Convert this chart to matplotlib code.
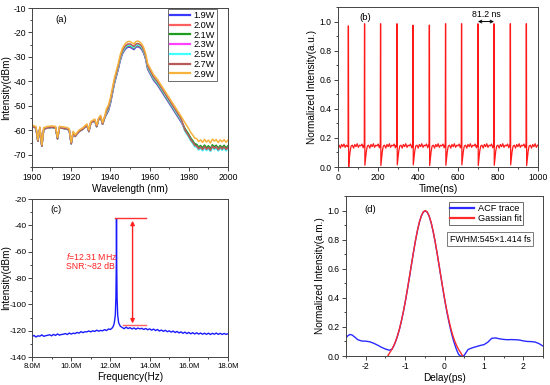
import numpy as np
import matplotlib
matplotlib.use("Agg")
import matplotlib.pyplot as plt
from matplotlib.ticker import MultipleLocator, FuncFormatter

plt.rcParams["font.family"] = ["Liberation Sans", "DejaVu Sans"]
plt.rcParams["axes.unicode_minus"] = False
plt.rcParams["mathtext.fontset"] = "custom"
plt.rcParams["mathtext.it"] = "Liberation Sans:italic"
plt.rcParams["mathtext.rm"] = "Liberation Sans"

# (a) optical spectra at different pump powers
powers = ["1.9W", "2.0W", "2.1W", "2.3W", "2.5W", "2.7W", "2.9W"]
power_colors = ["#3a3aff", "#ff5f5f", "#1e9e1e", "#ff40ff", "#40ffff", "#b85a5a", "#f6b33c"]
wavelength = [1900, 1902, 1903, 1904, 1905, 1906, 1908, 1910, 1912, 1913, 1914, 1916,
              1918, 1919, 1920, 1921, 1922, 1924, 1926, 1928, 1929, 1930, 1932, 1933,
              1934, 1935, 1936, 1937, 1938, 1939, 1940, 1941, 1942, 1944, 1945, 1946,
              1947, 1948, 1949, 1950, 1951, 1952, 1953, 1954, 1955, 1956, 1957, 1958,
              1959, 1960, 1962, 1964, 1966, 1968, 1970, 1972, 1974, 1976, 1978, 1980,
              1981, 1982, 1983, 1984, 1985, 1986, 1987, 1988, 1989, 1990, 1991, 1992,
              1993, 1994, 1995, 1996, 1997, 1998, 1999, 2000]
spectrum_19w = [-58.5, -59.0, -64.5, -59.2, -66.5, -59.5, -59.0, -58.8, -59.0, -63.5, -59.0, -59.2,
                -59.5, -60.0, -65.5, -61.0, -62.5, -60.5, -59.5, -58.0, -60.5, -57.0, -56.0, -58.5,
                -55.5, -54.5, -57.5, -55.0, -53.5, -52.0, -49.0, -45.0, -41.0, -35.0, -31.5, -29.0,
                -27.5, -26.5, -26.0, -26.0, -26.5, -27.0, -26.0, -25.8, -26.2, -27.0, -28.5, -31.0,
                -35.0, -36.5, -39.5, -41.5, -44.0, -46.5, -49.0, -51.5, -54.0, -56.5, -59.5, -62.0,
                -63.5, -64.5, -65.8, -66.0, -67.2, -66.5, -67.5, -66.3, -67.4, -66.6, -67.8, -66.2,
                -67.0, -66.4, -67.6, -66.5, -67.3, -66.4, -67.5, -66.6]
left_shift = [0.0, 0.2, 0.0, 0.1, 0.0, 0.0, 0.6]
peak_shift = [0.0, 0.4, 0.6, 1.0, 0.8, 1.3, 2.3]
tail_shift = [0.0, -0.3, 0.3, -0.5, -0.9, -0.4, 2.6]

# (b) pulse train
pulse_times = [52, 133, 213, 295, 375, 457, 538, 618, 700, 780, 862, 942]
pulse_peaks = [0.97, 0.985, 0.985, 0.985, 0.975, 0.975, 0.985, 0.985, 0.985, 0.985, 0.985, 0.985]
pulse_dips = [0.0, 0.012, 0.01, 0.015, 0.015, 0.01, 0.012, 0.015, 0.01, 0.012, 0.015, 0.01]
recovery_offsets = [5, 9, 14]
recovery_levels = [0.06, 0.11, 0.145]
floor_offsets = [20, 26, 32, 38, 44, 50, 56, 62, 68, 74, 78]
floor_levels = [0.15, 0.13, 0.155, 0.14, 0.16, 0.135, 0.15, 0.145, 0.158, 0.132, 0.15]
lead_times = [0, 6, 12, 18, 24, 30, 36, 42, 48]
lead_levels = [0.14, 0.15, 0.13, 0.155, 0.14, 0.158, 0.135, 0.15, 0.14]

# (c) RF spectrum
rf_freq = [8.0, 8.1, 8.2, 8.3, 8.4, 8.5, 8.6, 8.7, 8.8, 8.9,
           9.0, 9.1, 9.2, 9.3, 9.4, 9.5, 9.6, 9.7, 9.8, 9.9,
           10.0, 10.1, 10.2, 10.3, 10.4, 10.5, 10.6, 10.7, 10.8, 10.9,
           11.0, 11.1, 11.2, 11.3, 11.4, 11.5, 11.6, 11.7, 11.8, 11.9,
           12.0, 12.1, 12.15, 12.2, 12.25, 12.28, 12.3, 12.31, 12.32, 12.34, 12.37, 12.42, 12.5,
           12.6, 12.7, 12.8, 12.9, 13.0, 13.1, 13.2, 13.3, 13.4, 13.5, 13.6, 13.7, 13.8, 13.9,
           14.0, 14.1, 14.2, 14.3, 14.4, 14.5, 14.6, 14.7, 14.8, 14.9,
           15.0, 15.1, 15.2, 15.3, 15.4, 15.5, 15.6, 15.7, 15.8, 15.9,
           16.0, 16.1, 16.2, 16.3, 16.4, 16.5, 16.6, 16.7, 16.8, 16.9,
           17.0, 17.1, 17.2, 17.3, 17.4, 17.5, 17.6, 17.7, 17.8, 17.9, 18.0]
rf_level = [-124.5, -123.6, -124.8, -123.9, -124.2, -123.2, -124.3, -123.8, -123.5, -123.1,
            -123.9, -122.8, -123.6, -122.5, -123.4, -122.9, -122.7, -122.2, -122.9, -121.8,
            -122.6, -121.9, -122.2, -121.3, -121.9, -120.7, -121.5, -120.8, -120.9, -120.2,
            -120.9, -120.1, -120.6, -119.6, -120.4, -119.8, -120.1, -119.2, -119.9, -118.7,
            -119.1, -117.8, -116.5, -114.0, -108.0, -95.0, -70.0, -35.0, -68.0, -95.0, -108.0, -114.0, -116.5,
            -117.6, -118.5, -117.3, -118.4, -117.7, -118.7, -117.9, -118.9, -118.0, -118.6, -118.2, -119.1, -118.3, -119.3,
            -118.6, -119.6, -118.8, -119.9, -119.1, -120.3, -119.5, -120.5, -119.7, -120.8,
            -120.1, -121.1, -120.3, -121.4, -120.6, -121.7, -120.9, -122.0, -121.1, -122.2,
            -121.3, -122.4, -121.5, -122.5, -121.6, -122.6, -121.8, -122.7, -121.9, -122.8,
            -121.9, -122.9, -122.0, -122.7, -121.8, -122.8, -122.0, -122.9, -122.1, -122.8, -122.3]

# (d) autocorrelation trace and Gaussian fit
acf_delay = [-2.5, -2.45, -2.4, -2.35, -2.3, -2.2, -2.1, -2.0, -1.9, -1.8, -1.7, -1.6, -1.5, -1.4,
             -1.34, -1.29, -1.24, -1.19, -1.14, -1.09, -1.04, -0.99, -0.94, -0.89, -0.84, -0.79,
             -0.74, -0.69, -0.64, -0.59, -0.54, -0.49, -0.44, -0.39, -0.34, -0.29, -0.24, -0.19,
             -0.14, -0.09, -0.04, 0.01, 0.06, 0.11, 0.16, 0.21, 0.26, 0.31, 0.36, 0.41, 0.46,
             0.5, 0.55, 0.6, 0.7, 0.8, 0.9, 1.0, 1.1, 1.2, 1.3, 1.4, 1.5, 1.6, 1.7, 1.8, 1.9,
             2.0, 2.1, 2.2, 2.3, 2.4, 2.5]
acf_value = [0.125, 0.140, 0.148, 0.145, 0.135, 0.112, 0.103, 0.102, 0.098, 0.088, 0.075, 0.060, 0.048, 0.040,
             0.044, 0.068, 0.100, 0.140, 0.188, 0.245, 0.309, 0.381, 0.460, 0.542, 0.626, 0.709,
             0.788, 0.858, 0.917, 0.961, 0.989, 0.998, 0.989, 0.961, 0.917, 0.858, 0.788, 0.709,
             0.626, 0.542, 0.458, 0.378, 0.303, 0.236, 0.176, 0.123, 0.078, 0.040, 0.010, 0.0, 0.0,
             0.004, 0.025, 0.045, 0.056, 0.064, 0.072, 0.078, 0.095, 0.122, 0.124, 0.118, 0.114, 0.112, 0.113, 0.112, 0.110,
             0.104, 0.100, 0.099, 0.096, 0.085, 0.068]
fit_delay = [-1.44, -1.39, -1.34, -1.29, -1.24, -1.19, -1.14, -1.09, -1.04, -0.99, -0.94, -0.89,
             -0.84, -0.79, -0.74, -0.69, -0.64, -0.59, -0.54, -0.49, -0.44, -0.39, -0.34, -0.29,
             -0.24, -0.19, -0.14, -0.09, -0.04, 0.01, 0.06, 0.11, 0.16, 0.21, 0.26, 0.31, 0.36,
             0.41, 0.46]
fit_value = [0.0, 0.023, 0.044, 0.070, 0.102, 0.142, 0.190, 0.247, 0.311, 0.383, 0.462, 0.544,
             0.628, 0.711, 0.790, 0.860, 0.919, 0.963, 0.991, 1.0, 0.991, 0.963, 0.919, 0.860,
             0.790, 0.711, 0.628, 0.544, 0.462, 0.383, 0.311, 0.247, 0.190, 0.142, 0.102, 0.070,
             0.044, 0.023, 0.0]

FRAME = "#444444"
TICK_FS = 6.2
LABEL_FS = 7.2


def style_axes(ax):
    for sp in ax.spines.values():
        sp.set_color(FRAME)
        sp.set_linewidth(0.7)
    ax.tick_params(which="both", direction="out", top=False, right=False,
                   width=0.7, color=FRAME, labelsize=TICK_FS, pad=1.5)
    ax.tick_params(which="major", length=3)
    ax.tick_params(which="minor", length=1.6)


def style_legend(leg):
    leg.get_frame().set_edgecolor("#555555")
    leg.get_frame().set_linewidth(0.6)
    for line in leg.get_lines():
        line.set_linewidth(1.6)


fig = plt.figure(figsize=(5.5, 3.85), dpi=100)

# ---- (a)
ax_a = fig.add_axes([0.0582, 0.5662, 0.3564, 0.4130])
wl = np.array(wavelength)
base = np.array(spectrum_19w)
for i, name in enumerate(powers):
    shift = np.select([wl < 1938, wl > 1977], [left_shift[i], tail_shift[i]], peak_shift[i])
    ax_a.plot(wl, base + shift, color=power_colors[i], lw=1.1, label=name)
ax_a.set_xlim(1900, 2000)
ax_a.set_ylim(-75, -10)
ax_a.xaxis.set_major_locator(MultipleLocator(20))
ax_a.xaxis.set_minor_locator(MultipleLocator(10))
ax_a.yaxis.set_major_locator(MultipleLocator(10))
ax_a.yaxis.set_minor_locator(MultipleLocator(5))
ax_a.set_xlabel("Wavelength (nm)", fontsize=LABEL_FS, labelpad=1)
ax_a.set_ylabel("Intensity(dBm)", fontsize=LABEL_FS)
ax_a.yaxis.set_label_coords(-0.105, 0.5)
ax_a.text(1915, -14.5, "(a)", fontsize=6.8, ha="center", va="center")
leg = ax_a.legend(loc="upper right", bbox_to_anchor=(0.95, 1.0), fontsize=6.6,
                  handlelength=2.2, labelspacing=0.08, borderpad=0.25, handletextpad=0.4,
                  fancybox=False, framealpha=1, borderaxespad=0.1)
style_legend(leg)
style_axes(ax_a)
ax_a.tick_params(axis="y", pad=1)

# ---- (b)
ax_b = fig.add_axes([0.6145, 0.5662, 0.3636, 0.4156])
t_pts = list(lead_times)
v_pts = list(lead_levels)
for t0, pk, dp in zip(pulse_times, pulse_peaks, pulse_dips):
    t_pts += [t0 - 1.5, t0 - 0.4, t0 + 0.4, t0 + 1.5]
    v_pts += [0.14, pk, pk, dp]
    t_pts += [t0 + o for o in recovery_offsets]
    v_pts += recovery_levels
    t_pts += [t0 + o for o in floor_offsets if t0 + o <= 1000]
    v_pts += [lv for o, lv in zip(floor_offsets, floor_levels) if t0 + o <= 1000]
ax_b.plot(t_pts, v_pts, color="#ff1a1a", lw=0.9)
ax_b.annotate("", xy=(pulse_times[8], 1.0), xytext=(pulse_times[9], 1.0),
              arrowprops=dict(arrowstyle="<->", color="black", lw=0.7,
                              mutation_scale=5, shrinkA=0, shrinkB=0))
ax_b.text(740, 1.05, "81.2 ns", fontsize=6.3, ha="center", va="center")
ax_b.text(135, 1.03, "(b)", fontsize=6.8, ha="center", va="center")
ax_b.set_xlim(0, 1000)
ax_b.set_ylim(0, 1.1)
ax_b.xaxis.set_major_locator(MultipleLocator(200))
ax_b.xaxis.set_minor_locator(MultipleLocator(100))
ax_b.yaxis.set_major_locator(MultipleLocator(0.2))
ax_b.yaxis.set_minor_locator(MultipleLocator(0.1))
ax_b.yaxis.set_major_formatter(FuncFormatter(lambda v, p: f"{v:.1f}"))
ax_b.set_xlabel("Time(ns)", fontsize=LABEL_FS, labelpad=1)
ax_b.set_ylabel("Normalized Intensity(a.u.)", fontsize=LABEL_FS, labelpad=2)
style_axes(ax_b)

# ---- (c)
ax_c = fig.add_axes([0.0582, 0.0727, 0.3564, 0.4104])
ax_c.plot(rf_freq, rf_level, color="#1a1aff", lw=1.0)
ax_c.plot([12.24, 13.8], [-34.7, -34.7], color="#ff3030", lw=1.0)
ax_c.plot([12.62, 13.8], [-115.7, -115.7], color="#ff6060", lw=1.0)
ax_c.annotate("", xy=(13.13, -36.5), xytext=(13.13, -114.5),
              arrowprops=dict(arrowstyle="<|-|>", color="#ff2020", lw=1.0,
                              mutation_scale=6, shrinkA=0, shrinkB=0))
ax_c.text(9.75, -63.3, r"$\it{f}$=12.31 MHz", color="#ff2020", fontsize=6.3, va="center")
ax_c.text(9.75, -71.4, "SNR:~82 dB", color="#ff2020", fontsize=6.3, va="center")
ax_c.text(9.2, -27.6, "(c)", fontsize=6.8, ha="center", va="center")
ax_c.set_xlim(8, 18)
ax_c.set_ylim(-140, -20)
ax_c.xaxis.set_major_locator(MultipleLocator(2))
ax_c.xaxis.set_minor_locator(MultipleLocator(1))
ax_c.xaxis.set_major_formatter(FuncFormatter(lambda v, p: f"{v:.1f}M"))
ax_c.yaxis.set_major_locator(MultipleLocator(20))
ax_c.yaxis.set_minor_locator(MultipleLocator(10))
ax_c.set_xlabel("Frequency(Hz)", fontsize=LABEL_FS, labelpad=1)
ax_c.set_ylabel("Intensity(dBm)", fontsize=LABEL_FS)
ax_c.yaxis.set_label_coords(-0.108, 0.5)
style_axes(ax_c)
ax_c.tick_params(axis="x", labelsize=5.6)
ax_c.tick_params(axis="y", pad=1, labelsize=6.0)

# ---- (d)
ax_d = fig.add_axes([0.6291, 0.0753, 0.3582, 0.4156])
ax_d.plot(acf_delay, acf_value, color="#2a2aff", lw=1.0, label="ACF trace")
ax_d.plot(fit_delay, fit_value, color="#ff2a2a", lw=1.0, label="Gassian fit")
ax_d.set_xlim(-2.5, 2.5)
ax_d.set_ylim(0, 1.1)
ax_d.xaxis.set_major_locator(MultipleLocator(1))
ax_d.xaxis.set_minor_locator(MultipleLocator(0.5))
ax_d.yaxis.set_major_locator(MultipleLocator(0.2))
ax_d.yaxis.set_minor_locator(MultipleLocator(0.1))
ax_d.yaxis.set_major_formatter(FuncFormatter(lambda v, p: f"{v:.1f}"))
ax_d.text(-1.89, 1.005, "(d)", fontsize=6.8, ha="center", va="center")
ax_d.text(0.731, 0.731, "FWHM:545×1.414 fs", transform=ax_d.transAxes, fontsize=6.3,
          ha="center", va="center",
          bbox=dict(boxstyle="square,pad=0.25", fc="white", ec="#666666", lw=0.6))
leg_d = ax_d.legend(loc="upper right", bbox_to_anchor=(0.9, 0.96), fontsize=6.6,
                    handlelength=2.6, labelspacing=0.1, borderpad=0.2, handletextpad=0.4,
                    fancybox=False, framealpha=1, borderaxespad=0)
style_legend(leg_d)
ax_d.set_xlabel("Delay(ps)", fontsize=LABEL_FS, labelpad=1)
ax_d.set_ylabel("Normalized Intensity(a.m.)", fontsize=LABEL_FS, labelpad=2)
style_axes(ax_d)

fig.savefig("out.png", dpi=100)
